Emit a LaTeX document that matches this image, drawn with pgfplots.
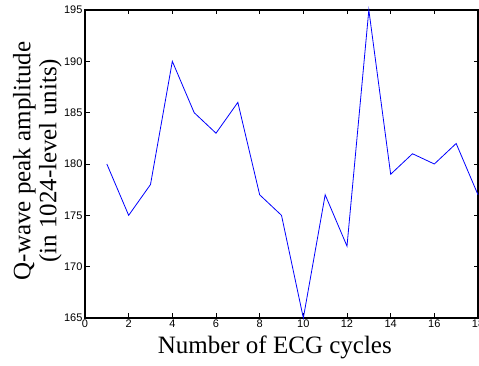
\documentclass[border=0pt]{standalone}
\usepackage{fontspec}
\setmainfont{Liberation Serif}
\newfontfamily\arialfont{Liberation Sans}
\usepackage{pgfplots}
\pgfplotsset{compat=1.18}
\begin{document}
\begin{tikzpicture}[x=1pt,y=1pt]
\begin{axis}[
  at={(0,0)}, anchor=south west,
  scale only axis,
  width=393pt, height=308pt,
  xmin=0, xmax=18, ymin=165, ymax=195,
  xtick={0,2,...,18}, ytick={165,170,...,195},
  tick align=inside, tick pos=both,
  major tick length=4.5pt,
  axis line style={line width=1.2pt},
  every tick/.style={line width=0.9pt, black},
  tick label style={font=\arialfont\fontsize{11}{12}\selectfont},
  /pgf/number format/assume math mode=true,
  xlabel={Number of ECG cycles},
  ylabel={Q-wave peak amplitude\\(in 1024-level units)},
  ylabel style={align=center, font=\fontsize{25}{26}\selectfont, inner sep=0pt,
    at={(axis description cs:-0.0585,0.51)}, anchor=south, rotate=0},
  xlabel style={font=\fontsize{25}{26}\selectfont, inner sep=0pt,
    at={(axis description cs:0.483,0)}, anchor=base, yshift=-36pt},
  xticklabel style={yshift=2pt},
  yticklabel style={xshift=1pt},
  clip=false,
]
\addplot[blue, line width=0.8pt] coordinates {
(1,180) (2,175) (3,178) (4,190) (5,185) (6,183) (7,186) (8,177) (9,175)
(10,165) (11,177) (12,172) (13,195) (14,179) (15,181) (16,180) (17,182) (18,177)
};
\end{axis}
\pgfresetboundingbox
\path (-85pt,-48pt) rectangle (394pt,318pt);
\end{tikzpicture}
\end{document}
